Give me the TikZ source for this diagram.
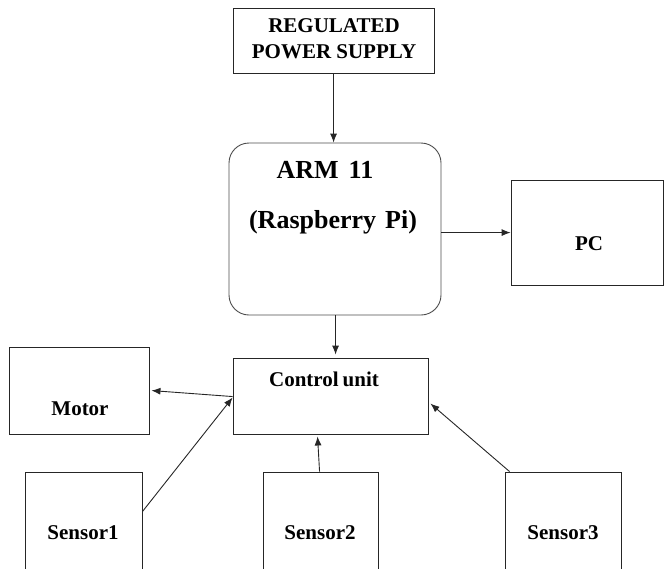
\documentclass[tikz,border=0pt]{standalone}
\usepackage{fontspec}
\setmainfont{Liberation Serif}
\usetikzlibrary{arrows.meta,calc}
\begin{document}
\begin{tikzpicture}[x=1pt,y=-1pt,
  box/.style={draw=black!85,line width=0.9pt,inner sep=0pt,rectangle},
  lbl/.style={font=\fontsize{21}{26}\selectfont\bfseries,inner sep=0pt,align=center,text=black},
  big/.style={font=\fontsize{26}{30}\selectfont\bfseries,inner sep=0pt,text=black},
  conn/.style={draw=black!85,line width=0.9pt,-{Latex[length=9pt,width=7pt]}}]
\useasboundingbox (0,0) rectangle (664,568);
\clip (0,0) rectangle (664,568);
% boxes
\node[box,minimum width=201pt,minimum height=65pt] (psu) at (333.5,40.5) {};
\node[box,draw=black!70,rounded corners=20pt,minimum width=212pt,minimum height=172pt] (arm) at (335,229) {};
\node[box,minimum width=152pt,minimum height=105pt] (pc) at (587,232.5) {};
\node[box,minimum width=195pt,minimum height=76pt] (ctrl) at (330.5,396) {};
\node[box,minimum width=140pt,minimum height=87pt] (motor) at (79,390.5) {};
\node[box,minimum width=117pt,minimum height=110pt] (s1) at (83.5,527) {};
\node[box,minimum width=115pt,minimum height=110pt] (s2) at (320.5,527) {};
\node[box,minimum width=116pt,minimum height=110pt] (s3) at (563,527) {};
% texts
\node[lbl] (psut) at (334,39) {REGULATED\\POWER SUPPLY};
\node[big] (armt1) at (325,170) {ARM\hspace{10pt}11};
\node[big] (armt2) at (333,222) {(Raspberry\hspace{9pt}Pi)};
\node[lbl] (pct) at (589,244) {PC};
\node[lbl] (ctrlt) at (324,379) {Control\hspace{4pt}unit};
\node[lbl] (motort) at (80,409) {Motor};
\node[lbl] (s1t) at (83,533) {Sensor1};
\node[lbl] (s2t) at (320,533) {Sensor2};
\node[lbl] (s3t) at (563,533) {Sensor3};
% connectors
\coordinate (ctrlL) at ($(ctrl.north west)+(0,40)$);
\draw[conn] ($(psu.south west)+(101,0)$) -- ($(arm.north west)+(105,0)$);
\draw[conn] ($(arm.north east)+(0,90)$) -- ($(pc.north west)+(0,53)$);
\draw[conn] ($(arm.south west)+(107,0)$) -- ($(ctrl.north west)+(103,-3)$);
\draw[conn] ($(ctrl.north west)+(0,39)$) -- ($(motor.north east)+(2,44)$);
\draw[conn] ($(s1.north east)+(0,40)$) -- (ctrlL);
\draw[conn] ($(s2.north west)+(57,0)$) -- ($(ctrl.south west)+(85,2)$);
\draw[conn] ($(s3.north west)+(5,0)$) -- ($(ctrl.north east)+(2,46)$);
\end{tikzpicture}
\end{document}
